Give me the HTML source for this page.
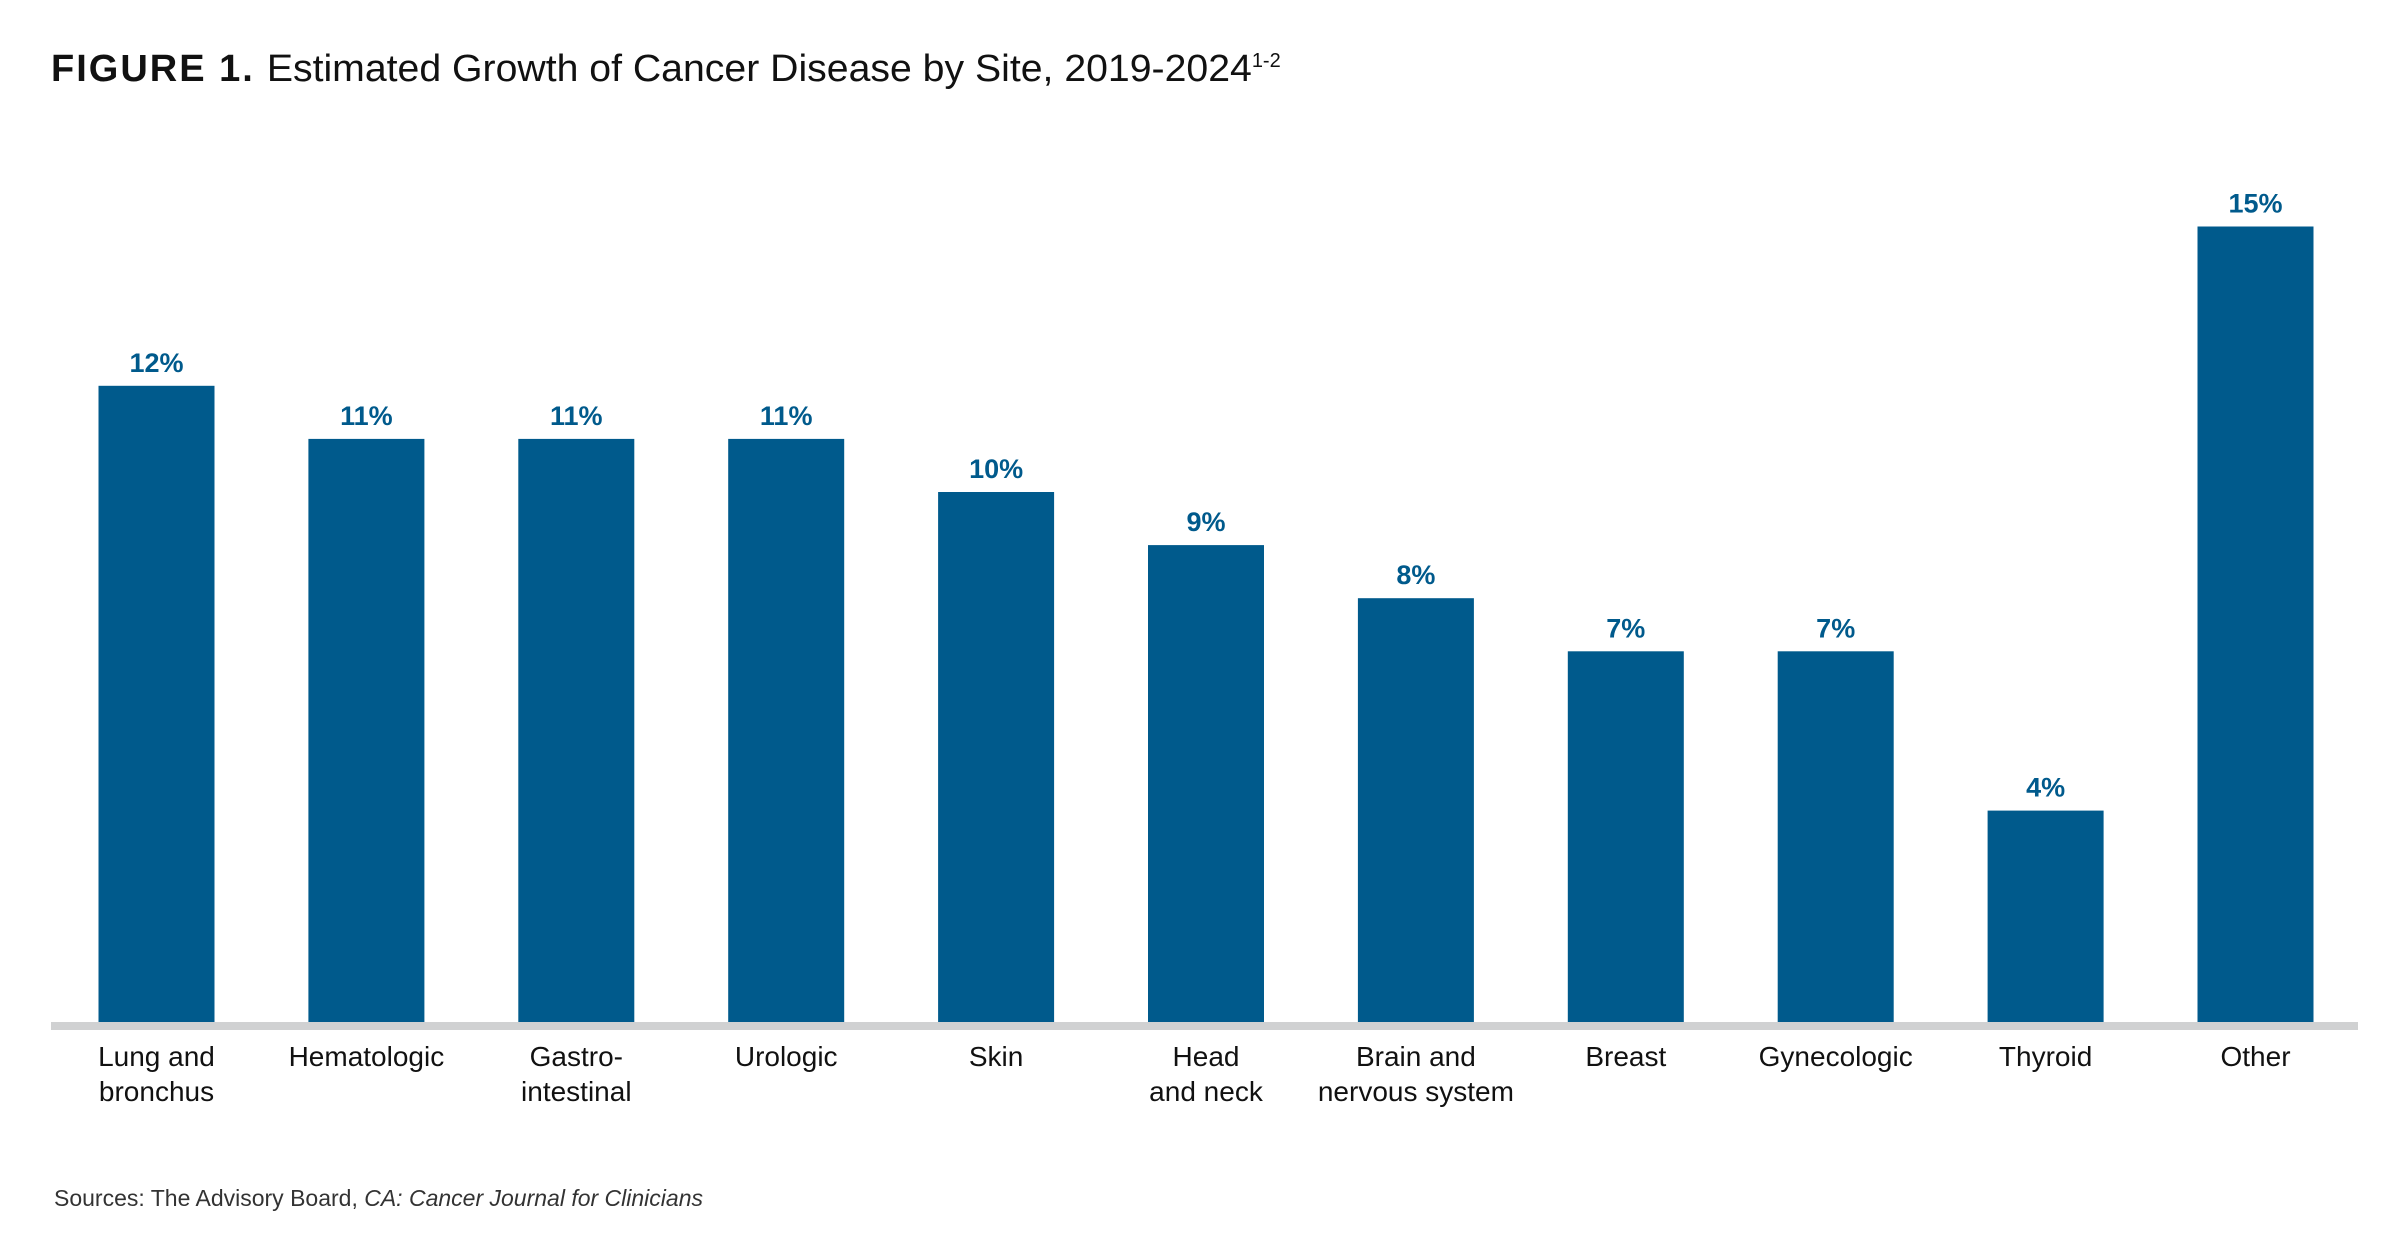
<!DOCTYPE html>
<html><head><meta charset="utf-8"><style>
html,body{margin:0;padding:0;background:#fff;}
svg{display:block;font-family:"Liberation Sans",sans-serif;}
</style></head><body>
<svg id="chart" width="2404" height="1257" viewBox="0 0 2404 1257">
<text x="51" y="81" font-size="38" fill="#111"><tspan font-weight="bold" letter-spacing="2">FIGURE 1.</tspan><tspan dx="12" textLength="985" lengthAdjust="spacingAndGlyphs">Estimated Growth of Cancer Disease by Site, 2019-2024</tspan><tspan font-size="20" dy="-14">1-2</tspan></text>
<g id="bars"></g>
<rect x="51" y="1022" width="2307" height="8" fill="#d0d1d2"/>
<g id="labels"></g>
<text x="54" y="1206" font-size="23" fill="#333">Sources: The Advisory Board, <tspan font-style="italic">CA: Cancer Journal for Clinicians</tspan></text>
</svg>
<script>
const categories = [["Lung and","bronchus"],["Hematologic"],["Gastro-","intestinal"],["Urologic"],["Skin"],["Head","and neck"],["Brain and","nervous system"],["Breast"],["Gynecologic"],["Thyroid"],["Other"]];
const values = [12,11,11,11,10,9,8,7,7,4,15];
const valueLabels = ["12%","11%","11%","11%","10%","9%","8%","7%","7%","4%","15%"];

const NS="http://www.w3.org/2000/svg";
const x0=98.5, step=209.9, bw=116, baseY=1023, perUnit=53.1;
const xScale=i=>x0+i*step;
const yScale=v=>baseY-v*perUnit;
const gb=document.getElementById('bars'), gl=document.getElementById('labels');
values.forEach((v,i)=>{
  const r=document.createElementNS(NS,'rect');
  r.setAttribute('x',xScale(i));r.setAttribute('y',yScale(v));
  r.setAttribute('width',bw);r.setAttribute('height',baseY-yScale(v));
  r.setAttribute('fill','#005a8c');
  
  
  gb.appendChild(r);
  const t=document.createElementNS(NS,'text');
  t.setAttribute('x',xScale(i)+bw/2);t.setAttribute('y',yScale(v)-14);
  t.setAttribute('text-anchor','middle');t.setAttribute('font-size','27');
  t.setAttribute('font-weight','bold');t.setAttribute('fill','#005a8c');
  t.textContent=valueLabels[i];
  
  
  gb.appendChild(t);
  categories[i].forEach((line,j)=>{
    const c=document.createElementNS(NS,'text');
    c.setAttribute('x',xScale(i)+bw/2);c.setAttribute('y',1066+j*35);
    c.setAttribute('text-anchor','middle');c.setAttribute('font-size','28');
    c.setAttribute('fill','#111');
    c.textContent=line;
    
    
    gl.appendChild(c);
  });
});
</script>
</body></html>
